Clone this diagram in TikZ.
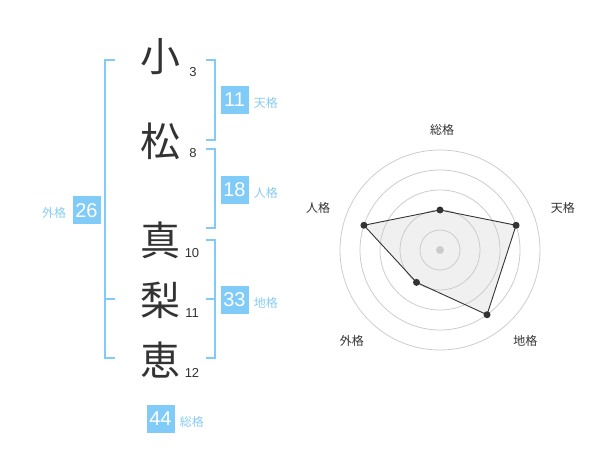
\documentclass[tikz,border=0pt]{standalone}
\usepackage{fontspec}
\setmainfont{Liberation Sans}
\newfontfamily\jpfont{Noto Sans CJK JP}
\usetikzlibrary{positioning}
\definecolor{kakublue}{HTML}{80CBF7}
\definecolor{kakutext}{HTML}{88CCF0}
\definecolor{inkgray}{HTML}{333333}
\definecolor{ringgray}{HTML}{CCCCCC}
\definecolor{areagray}{HTML}{F0F0F0}
\tikzset{
  kanji/.style={text=inkgray, font=\jpfont\fontsize{40}{40}\selectfont, inner sep=0pt},
  strokes/.style={text=inkgray, font=\fontsize{13}{13}\selectfont, inner sep=0pt},
  kakubox/.style={fill=kakublue, text=white, minimum size=28pt, inner sep=0pt, font=\fontsize{20}{20}\selectfont},
  kakuname/.style={text=kakutext, font=\jpfont\fontsize{12}{12}\selectfont, inner sep=0pt},
  bracket/.style={kakublue, line width=2pt},
  axisname/.style={text=inkgray, font=\jpfont\fontsize{12}{12}\selectfont, inner sep=0pt}
}

\begin{document}
\begin{tikzpicture}[x=1pt, y=-1pt]
        \useasboundingbox (0,0) rectangle (600,470);

        % Name characters
        \node[kanji] (c1) at (160,57) {小};
        \node[kanji] (c2) at (160,141) {松};
        \node[kanji] (c3) at (160,240) {真};
        \node[kanji] (c4) at (160,300) {梨};
        \node[kanji] (c5) at (160,360) {恵};

        % Stroke counts
        \node[strokes] (s1) at (193,72) {3};
        \node[strokes] (s2) at (193,153) {8};
        \node[strokes] (s3) at (192,253) {10};
        \node[strokes] (s4) at (192,313) {11};
        \node[strokes] (s5) at (192,373) {12};

        % Brackets
        \draw[bracket] (115,60) -- (105,60) -- (105,358) -- (115,358);
        \draw[bracket] (105,299) -- (115,299);
        \draw[bracket] (206,60) -- (215,60) -- (215,140) -- (206,140);
        \draw[bracket] (206,149) -- (215,149) -- (215,228) -- (206,228);
        \draw[bracket] (206,240) -- (215,240) -- (215,358) -- (206,358);
        \draw[bracket] (206,299) -- (215,299);

        % Kaku values
        \node[kakubox] (ten) at (234.5,100) {11};
        \node[kakuname, right=5pt of ten, yshift=-3pt] (tenname) {天格};
        \node[kakubox] (jin) at (234.5,190) {18};
        \node[kakuname, right=5pt of jin, yshift=-3pt] (jinname) {人格};
        \node[kakubox] (chi) at (234.5,300) {33};
        \node[kakuname, right=5pt of chi, yshift=-3pt] (chiname) {地格};
        \node[kakubox] (gai) at (86.5,210.5) {26};
        \node[kakuname, left=6pt of gai, yshift=-2pt] (gainame) {外格};
        \node[kakubox] (so) at (160.5,419) {44};
        \node[kakuname, right=5pt of so, yshift=-3pt] (soname) {総格};

        % Radar chart
        \begin{scope}[shift={(440,250)}]
          \foreach \a/\v/\n in {-90/40/so, -18/80/ten, 54/80/chi, 126/40/gai, 198/80/jin} {
            \coordinate (p\n) at (\a:\v);
          }
          \fill[areagray] (pso) -- (pten) -- (pchi) -- (pgai) -- (pjin) -- cycle;
          \foreach \r in {20,40,...,100} {
            \draw[ringgray, line width=0.8pt] (0,0) circle (\r pt);
          }
          \fill[ringgray] (0,0) circle (4pt);
          \draw[inkgray, line width=0.9pt] (pso) -- (pten) -- (pchi) -- (pgai) -- (pjin) -- cycle;
          \foreach \n in {so, ten, chi, gai, jin} {
            \fill[inkgray] (p\n) circle (3.5pt);
          }
          \node[axisname] (rso) at (-89:120) {総格};
          \node[axisname] (rten) at (-19:130) {天格};
          \node[axisname] (rchi) at (47:125) {地格};
          \node[axisname] (rgai) at (134:127) {外格};
          \node[axisname] (rjin) at (199:129) {人格};
        \end{scope}
      \end{tikzpicture}
\end{document}
